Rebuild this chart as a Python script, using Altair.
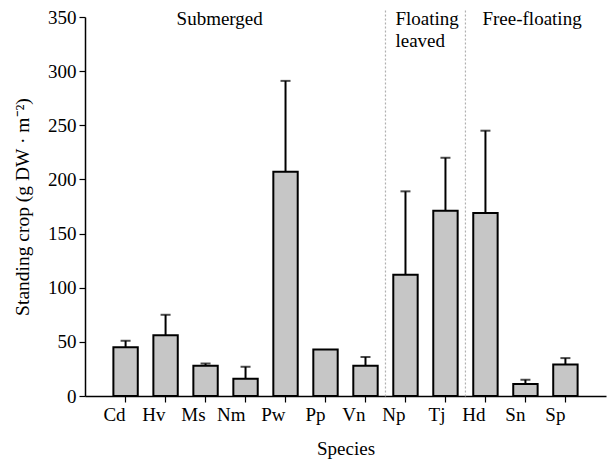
import altair as alt
import pandas as pd

species = ["Cd", "Hv", "Ms", "Nm", "Pw", "Pp", "Vn", "Np", "Tj", "Hd", "Sn", "Sp"]
means = [45, 56, 28, 16, 207, 43, 28, 112, 171, 169, 11, 29]
upper = [51, 75, 30, 27, 291, None, 36, 189, 220, 245, 15, 35]

group_labels = ["Submerged", "Floating\nleaved", "Free-floating"]
group_anchor = ["Hv", "Np", "Hd"]
group_dx = [11, -10, -3]
sep_at = ["Np", "Hd"]

FONT = "Liberation Serif"

df = pd.DataFrame({"sp": species, "mean": means, "up": upper})
err = df.dropna()
grp = pd.DataFrame({"sp": group_anchor, "lab": group_labels, "dx": group_dx})
sep = pd.DataFrame({"sp": sep_at})

xscale = alt.Scale(domain=species, paddingInner=0.39, paddingOuter=0.71)
yscale = alt.Scale(domain=[0, 350])

x_enc = alt.X("sp:N", scale=xscale, sort=species,
              axis=alt.Axis(title="Species", labelAngle=0, labelFont=FONT, labelFontSize=19,
                            titleFont=FONT, titleFontSize=19, titleFontWeight="normal",
                            labelColor="black", titleColor="black", domainColor="black",
                            domainWidth=1.5, tickColor="black", tickWidth=1.2, tickSize=6,
                            labelPadding=12, titlePadding=15))
y_axis = alt.Axis(title="Standing crop (g DW · m⁻²)", values=[0, 50, 100, 150, 200, 250, 300, 350],
                  labelFont=FONT, labelFontSize=19, titleFont=FONT, titleFontSize=19.5,
                  titleFontWeight="normal", labelColor="black", titleColor="black",
                  domainColor="black", domainWidth=1.5, tickColor="black", tickWidth=1.2,
                  tickSize=6, labelPadding=3, titlePadding=15, grid=False)

bars = alt.Chart(df).mark_bar(fill="#c6c6c6", stroke="black", strokeWidth=2).encode(
    x=x_enc,
    y=alt.Y("mean:Q", scale=yscale, axis=y_axis),
)

stems = alt.Chart(err).mark_rule(color="black", strokeWidth=2).encode(
    x=alt.X("sp:N", scale=xscale, sort=species),
    y=alt.Y("mean:Q", scale=yscale),
    y2="up:Q",
)
caps = alt.Chart(err).mark_tick(color="black", thickness=2, size=10, orient="horizontal").encode(
    x=alt.X("sp:N", scale=xscale, sort=species),
    y=alt.Y("up:Q", scale=yscale),
)

seps = alt.Chart(sep).mark_rule(color="#b0b0b0", strokeDash=[2, 2], strokeWidth=1.2, xOffset=-20).encode(
    x=alt.X("sp:N", scale=xscale, sort=species),
    y=alt.datum(356),
    y2=alt.datum(-2),
)

texts = alt.layer(*[
    alt.Chart(grp[grp.sp == a]).mark_text(font=FONT, fontSize=19, align="left", baseline="alphabetic",
                                          lineBreak="\n", lineHeight=22, color="black", dx=d).encode(
        x=alt.X("sp:N", scale=xscale, sort=species),
        y=alt.datum(342.5),
        text="lab:N",
    )
    for a, d in zip(group_anchor, group_dx)
])

chart = alt.layer(seps, bars, stems, caps, texts).properties(
    width=521, height=379,
    autosize=alt.AutoSizeParams(type="none"),
    padding={"left": 85, "top": 17, "right": 4, "bottom": 70},
    background="white",
).configure_view(stroke=None)

chart.save("out.html", embed_options={"renderer": "svg", "actions": False})
